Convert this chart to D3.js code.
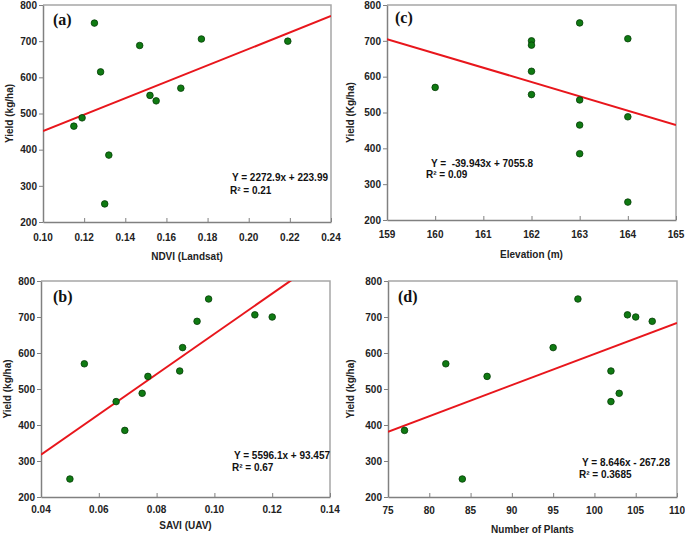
<!DOCTYPE html>
<html><head><meta charset="utf-8">
<script src="https://cdn.jsdelivr.net/npm/d3@7"></script>
<style>
body{margin:0;background:#fff;}
svg text{font-family:"Liberation Sans",Arial,sans-serif;}
</style></head>
<body>
<svg id="chart" width="685" height="537"></svg>
<script>
// Data (yield in kg/ha)
const yieldVals = [750, 706, 700, 688, 615, 570, 550, 535, 488, 465, 385, 250];
const ndviLandsat = [0.125, 0.177, 0.219, 0.147, 0.128, 0.167, 0.152, 0.155, 0.119, 0.115, 0.132, 0.130];
const saviUAV = [0.098, 0.114, 0.120, 0.094, 0.089, 0.055, 0.088, 0.077, 0.075, 0.066, 0.069, 0.050];
const elevation = [163, 164, 162, 162, 162, 160, 162, 163, 164, 163, 163, 164];
const numPlants = [98, 104, 105, 107, 95, 82, 102, 87, 103, 102, 77, 84];

const yTicks = [200, 300, 400, 500, 600, 700, 800];
const ndviTicks = [0.10, 0.12, 0.14, 0.16, 0.18, 0.20, 0.22, 0.24];
const saviTicks = [0.04, 0.06, 0.08, 0.10, 0.12, 0.14];
const elevTicks = [159, 160, 161, 162, 163, 164, 165];
const plantTicks = [75, 80, 85, 90, 95, 100, 105, 110];

// regression: [slope, intercept]
const fitA = [2272.9, 223.99], fitB = [5596.1, 93.457], fitC = [-39.943, 7055.8], fitD = [8.646, -267.28];

const panels = [
  {label:"(a)", xs:ndviLandsat, ticks:ndviTicks, fmt:d3.format(".2f"), fit:fitA,
   xTitle:"NDVI (Landsat)", yTitle:"Yield (kg/ha)", eq:"Y = 2272.9x + 223.99", r2:"R² = 0.21",
   box:{l:43,r:331,t:5,b:222}, yLabX:9, xTickY:241, xTitleY:260, eqX:328, eqY:181, eqAnchor:"end", r2X:230, r2Y:194,
   labX:53, labY:25},
  {label:"(c)", xs:elevation, ticks:elevTicks, fmt:d3.format("d"), fit:fitC,
   xTitle:"Elevation (m)", yTitle:"Yield (Kg/ha)", eq:"Y =  -39.943x + 7055.8", r2:"R² = 0.09",
   box:{l:387,r:676,t:5,b:220}, yLabX:350, xTickY:238, xTitleY:258, eqX:431, eqY:167, eqAnchor:"start", r2X:426, r2Y:178,
   labX:395, labY:23},
  {label:"(b)", xs:saviUAV, ticks:saviTicks, fmt:d3.format(".2f"), fit:fitB,
   xTitle:"SAVI (UAV)", yTitle:"Yield (kg/ha)", eq:"Y = 5596.1x + 93.457", r2:"R² = 0.67",
   box:{l:41,r:330,t:281,b:497}, yLabX:7, xTickY:513, xTitleY:529, eqX:330, eqY:459, eqAnchor:"end", r2X:232, r2Y:471,
   labX:53, labY:302},
  {label:"(d)", xs:numPlants, ticks:plantTicks, fmt:d3.format("d"), fit:fitD,
   xTitle:"Number of Plants", yTitle:"Yield (kg/ha)", eq:"Y = 8.646x - 267.28", r2:"R² = 0.3685",
   box:{l:388,r:677,t:281,b:497}, yLabX:350, xTickY:514, xTitleY:533, eqX:670, eqY:466, eqAnchor:"end", r2X:579, r2Y:478,
   labX:398, labY:302}
];

const svg = d3.select("#chart");

panels.forEach((p, i) => {
  const b = p.box;
  const x = d3.scaleLinear().domain([p.ticks[0], p.ticks[p.ticks.length-1]]).range([b.l, b.r]);
  const y = d3.scaleLinear().domain([200, 800]).range([b.b, b.t]);
  const g = svg.append("g");

  const clipId = "clip" + i;
  svg.append("defs").append("clipPath").attr("id", clipId)
    .append("rect").attr("x", b.l).attr("y", b.t).attr("width", b.r - b.l).attr("height", b.b - b.t);

  // frame top/right
  g.append("path").attr("d", `M${b.l},${b.t}H${b.r}V${b.b}`)
    .attr("fill","none").attr("stroke","#a6a6a6").attr("stroke-width",1.5);

  // x axis (ticks inward)
  const xAx = g.append("g").attr("transform", `translate(0,${b.b})`)
    .call(d3.axisBottom(x).tickValues(p.ticks).tickFormat(p.fmt).tickSizeInner(-4).tickSizeOuter(0));
  xAx.select(".domain").attr("stroke","#808080").attr("stroke-width",1.5);
  xAx.selectAll(".tick line").attr("stroke","#808080");
  xAx.selectAll("text").remove();
  g.selectAll(".xt").data(p.ticks).enter().append("text")
    .attr("x", d => x(d)).attr("y", p.xTickY).attr("text-anchor","middle")
    .attr("font-size",10).attr("font-weight","bold").attr("fill","#222").text(p.fmt);

  // y axis (ticks outward)
  const yAx = g.append("g").attr("transform", `translate(${b.l},0)`)
    .call(d3.axisLeft(y).tickValues(yTicks).tickSizeInner(4).tickSizeOuter(0));
  yAx.select(".domain").attr("stroke","#808080").attr("stroke-width",1.5);
  yAx.selectAll(".tick line").attr("stroke","#808080");
  yAx.selectAll("text").attr("font-size",10).attr("font-weight","bold").attr("fill","#222")
    .attr("font-family","Liberation Sans, Arial, sans-serif").attr("x",-6);

  // titles
  g.append("text").attr("x",(b.l+b.r)/2).attr("y",p.xTitleY).attr("text-anchor","middle")
    .attr("font-size",10).attr("font-weight","bold").attr("fill","#222").text(p.xTitle);
  g.append("text").attr("transform",`translate(${p.yLabX},${(b.t+b.b)/2}) rotate(-90)`)
    .attr("text-anchor","middle").attr("dy","0.35em")
    .attr("font-size",10).attr("font-weight","bold").attr("fill","#222").text(p.yTitle);

  // regression line
  const x0 = x.domain()[0], x1 = x.domain()[1];
  g.append("line").attr("clip-path",`url(#${clipId})`)
    .attr("x1", x(x0)).attr("y1", y(p.fit[0]*x0 + p.fit[1]))
    .attr("x2", x(x1)).attr("y2", y(p.fit[0]*x1 + p.fit[1]))
    .attr("stroke","#e8161c").attr("stroke-width",2);

  // points
  g.selectAll("circle").data(p.xs.map((v,k)=>[v, yieldVals[k]])).enter().append("circle")
    .attr("cx", d => x(d[0])).attr("cy", d => y(d[1])).attr("r",3.3)
    .attr("fill","#0f7a12").attr("stroke","#063d08").attr("stroke-width",0.8);

  // equation
  g.append("text").attr("x",p.eqX).attr("y",p.eqY).attr("text-anchor",p.eqAnchor)
    .attr("font-size",10).attr("font-weight","bold").attr("fill","#111").style("white-space","pre")
    .attr("xml:space","preserve").text(p.eq);
  g.append("text").attr("x",p.r2X).attr("y",p.r2Y)
    .attr("font-size",10).attr("font-weight","bold").attr("fill","#111").text(p.r2);

  // panel label
  g.append("text").attr("x",p.labX).attr("y",p.labY)
    .style("font-family","'Liberation Serif','Times New Roman',serif")
    .attr("font-size",16).attr("font-weight","bold").attr("fill","#111").text(p.label);
});
</script>
</body></html>
